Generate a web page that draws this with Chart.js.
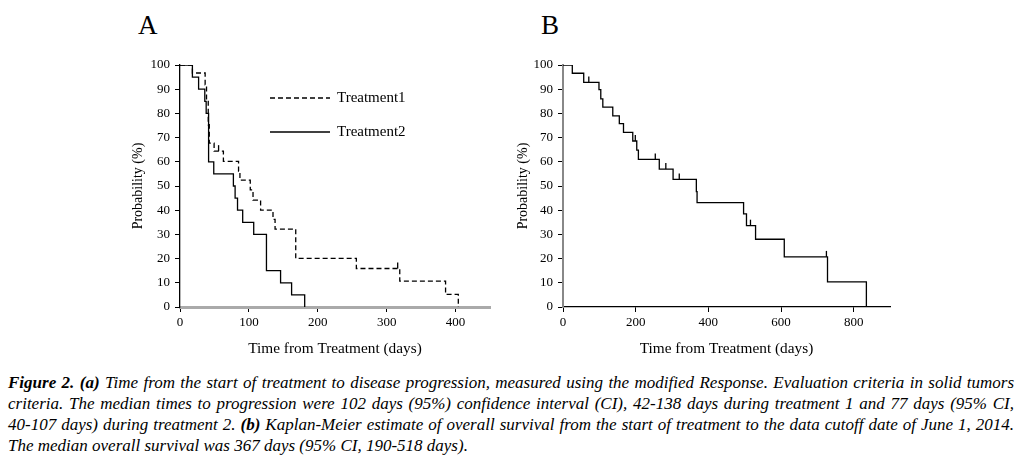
<!DOCTYPE html>
<html>
<head>
<meta charset="utf-8">
<script src="https://cdn.jsdelivr.net/npm/chart.js@4.4.1/dist/chart.umd.min.js"></script>
<style>
  body { margin:0; width:1024px; height:455px; background:#fff; position:relative; overflow:hidden; font-family:'Liberation Serif', serif; }
  .panel { position:absolute; }
  .letter { position:absolute; top:10px; font-size:27px; color:#000; }
  #caption { position:absolute; left:8px; top:372px; width:1006px; font-style:italic; font-size:17px; line-height:21px; color:#000; }
  #caption div { text-align:justify; text-align-last:justify; white-space:nowrap; }
  #caption div.last { text-align-last:left; }
</style>
</head>
<body>
<div class="letter" style="left:138px">A</div>
<div class="letter" style="left:541px">B</div>
<div class="panel" style="left:128px;top:50px;width:372px;height:310px"><canvas id="chartA"></canvas></div>
<div class="panel" style="left:513px;top:50px;width:387px;height:310px"><canvas id="chartB"></canvas></div>
<div id="caption">
  <div><b>Figure 2. (a)</b> Time from the start of treatment to disease progression, measured using the modified Response. Evaluation criteria in solid tumors</div>
  <div>criteria. The median times to progression were 102 days (95%) confidence interval (CI), 42-138 days during treatment 1 and 77 days (95% CI,</div>
  <div>40-107 days) during treatment 2. <b>(b)</b> Kaplan-Meier estimate of overall survival from the start of treatment to the data cutoff date of June 1, 2014.</div>
  <div class="last">The median overall survival was 367 days (95% CI, 190-518 days).</div>
</div>
<script>
// panel A - treatment 1 (dashed)
var daysA1 = [0, 18, 36.5, 38.5, 41, 42.5, 49.5, 63, 85, 87, 102, 106, 117, 135, 138, 168, 256, 319, 385.5, 404];
var survA1 = [100, 96.7, 91.8, 85.6, 75.3, 67.7, 64.4, 60.2, 56.2, 52.4, 48.4, 44.2, 40, 36.2, 32.2, 20.1, 15.9, 10.7, 5.2, 0];
var censorA1 = [56, 316];
// panel A - treatment 2 (solid)
var daysA2 = [0, 18, 27, 36, 38, 41.5, 49, 77.5, 80, 83.5, 91, 107, 125.5, 146, 162, 181];
var survA2 = [100, 95, 90, 85, 80, 60, 55, 50, 45, 40, 35, 30, 15, 10, 5, 0];
// panel B - overall survival
var daysB = [0, 25.6, 57, 99, 104, 109.6, 137, 155, 166.5, 192, 203, 207.5, 265, 303, 367, 369, 497, 505, 530, 609, 728, 835];
var survB = [100, 96.6, 92.8, 89.8, 86, 82.6, 79, 75.8, 72.2, 68.6, 64.8, 61, 57, 52.7, 47.7, 43.1, 38.5, 33.6, 28, 20.7, 10.4, 0];
var censorB = [71, 199, 254, 283, 320, 516, 725];

var xTicksA = [0, 100, 200, 300, 400];
var xTicksB = [0, 200, 400, 600, 800];
var yTicks = [0, 10, 20, 30, 40, 50, 60, 70, 80, 90, 100];
var legendLabels = ['Treatment1', 'Treatment2'];

function toPoints(days, surv){
    return days.map(function(d, i){ return {x:d, y:surv[i]}; });
}
function survAt(days, surv, t){
    var s = surv[0];
    for (var i = 0; i < days.length; i++){ if (days[i] <= t) s = surv[i]; }
    return s;
}

var serif = 'Liberation Serif';
var font = {family:serif, size:13};

// censor marks + legend drawn through the chart scales
var kmExtras = {
    id:'kmExtras',
    afterDatasetsDraw:function(chart, args, opts){
        var ctx = chart.ctx, xs = chart.scales.x, ys = chart.scales.y;
        ctx.save();
        ctx.strokeStyle = '#000';
        ctx.lineWidth = 1.3;
        (opts.censor || []).forEach(function(c){
            c.times.forEach(function(t){
                var px = xs.getPixelForValue(t);
                var py = ys.getPixelForValue(survAt(c.days, c.surv, t));
                ctx.beginPath(); ctx.moveTo(px, py); ctx.lineTo(px, py - 6); ctx.stroke();
            });
        });
        if (opts.legend){
            var lg = opts.legend;
            chart.data.datasets.forEach(function(ds, i){
                var y = chart.chartArea.top + lg.top + i * lg.gap;
                var x = chart.chartArea.left + lg.left;
                ctx.setLineDash(ds.borderDash || []);
                ctx.lineWidth = ds.borderWidth;
                ctx.beginPath(); ctx.moveTo(x, y); ctx.lineTo(x + lg.len, y); ctx.stroke();
                ctx.setLineDash([]);
                ctx.fillStyle = '#000';
                ctx.font = '15px "' + serif + '"';
                ctx.textBaseline = 'middle';
                ctx.fillText(ds.label, x + lg.len + 7, y);
            });
        }
        ctx.restore();
    }
};

function makeOptions(xMax, xTicks, yWidth, xColor, xWidth, yColor, yWidth2, extras){
    return {
        responsive:true,
        maintainAspectRatio:false,
        animation:false,
        layout:{padding:{top:15, right:10}},
        plugins:{legend:{display:false}, tooltip:{enabled:false}, kmExtras:extras},
        scales:{
            x:{
                type:'linear', min:0, max:xMax,
                afterBuildTicks:function(s){ s.ticks = xTicks.map(function(v){ return {value:v}; }); },
                afterFit:function(s){ s.height = 53; },
                grid:{drawOnChartArea:false, drawTicks:true, tickLength:5, tickColor:'#000'},
                border:{display:true, color:xColor, width:xWidth},
                ticks:{color:'#000', font:font, padding:3, maxRotation:0},
                title:{display:true, text:'Time from Treatment (days)', color:'#000', font:{family:serif, size:15.3}, padding:{top:4, bottom:2}}
            },
            y:{
                min:0, max:100,
                afterBuildTicks:function(s){ s.ticks = yTicks.map(function(v){ return {value:v}; }); },
                afterFit:function(s){ s.width = yWidth; },
                grid:{drawOnChartArea:false, drawTicks:true, tickLength:5, tickColor:'#000'},
                border:{display:true, color:yColor, width:yWidth2},
                ticks:{color:'#000', font:font, padding:5},
                title:{display:true, text:'Probability (%)', color:'#000', font:{family:serif, size:14}, padding:{top:2, bottom:2}}
            }
        }
    };
}

Chart.defaults.font.family = serif;

document.fonts.ready.then(function(){
    new Chart(document.getElementById('chartA'), {
        type:'line',
        data:{datasets:[
            {label:legendLabels[0], data:toPoints(daysA1, survA1), stepped:'before', borderColor:'#000', borderWidth:1.3, borderDash:[5,3], pointRadius:0, fill:false},
            {label:legendLabels[1], data:toPoints(daysA2, survA2), stepped:'before', borderColor:'#000', borderWidth:1.3, pointRadius:0, fill:false}
        ]},
        options:makeOptions(450, xTicksA, 52, '#aaa', 3, '#000', 1.3, {
            censor:[{days:daysA1, surv:survA1, times:censorA1}],
            legend:{left:90, top:33, gap:34, len:60}
        }),
        plugins:[kmExtras]
    });

    new Chart(document.getElementById('chartB'), {
        type:'line',
        data:{datasets:[
            {label:'Overall survival', data:toPoints(daysB, survB), stepped:'before', borderColor:'#000', borderWidth:1.3, pointRadius:0, fill:false}
        ]},
        options:makeOptions(900, xTicksB, 50, '#000', 1.3, '#888', 2, {
            censor:[{days:daysB, surv:survB, times:censorB}]
        }),
        plugins:[kmExtras]
    });
});
</script>
</body>
</html>
